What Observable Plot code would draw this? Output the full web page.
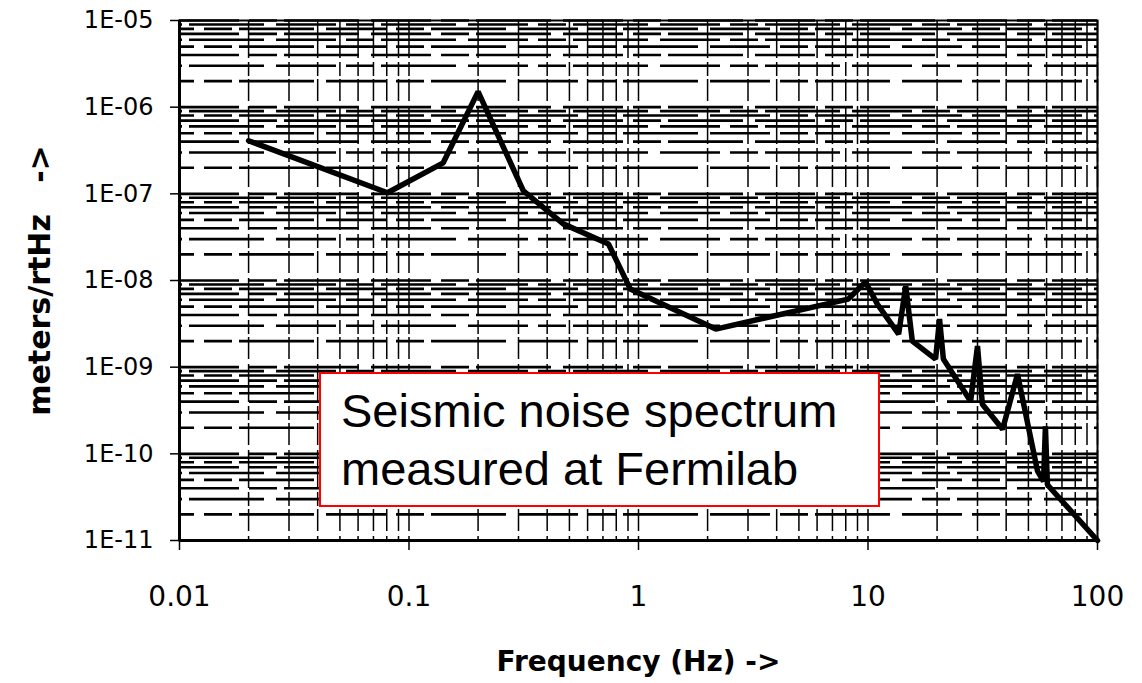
<!DOCTYPE html>
<html>
<head>
<meta charset="utf-8">
<script src="https://cdn.jsdelivr.net/npm/d3@7"></script>
<script src="https://cdn.jsdelivr.net/npm/@observablehq/plot@0.6"></script>
<style>
  html, body { margin: 0; padding: 0; background: #fff; }
  #wrap { position: relative; width: 1142px; height: 683px; }
  .note {
    position: absolute; left: 319px; top: 372px; width: 561px; height: 135px;
    box-sizing: border-box; border: 2px solid #ff0000; background: #fff;
    padding: 8px 0 0 20px; font-family: "Liberation Sans", Arial, sans-serif;
    font-size: 47px; line-height: 58px; color: #000; white-space: nowrap;
  }
</style>
</head>
<body>
<div id="wrap"></div>
<script>
// ---- data ----
const freq = [0.02, 0.0806, 0.141, 0.2, 0.315, 0.47, 0.74, 0.92, 2.17, 8.2, 9.75, 11, 13.6, 14.6, 15.6, 19.7, 20.5, 21.3, 28, 30, 31.5, 38.6, 44.8, 54.8, 58.2, 59.3, 60.5, 100];
const amp  = [4.1e-7, 1.03e-7, 2.28e-7, 1.51e-6, 1.08e-7, 4.5e-8, 2.64e-8, 8.0e-9, 2.75e-9, 6.1e-9, 9.6e-9, 5.3e-9, 2.4e-9, 8.6e-9, 2.0e-9, 1.24e-9, 3.59e-9, 1.24e-9, 4.05e-10, 1.75e-9, 3.73e-10, 1.92e-10, 8.3e-10, 6.3e-11, 4.8e-11, 2.08e-10, 4.4e-11, 1.0e-11];

const xTicks = [0.01, 0.1, 1, 10, 100];
const xTickLabels = ["0.01", "0.1", "1", "10", "100"];
const yTicks = [1e-11, 1e-10, 1e-9, 1e-8, 1e-7, 1e-6, 1e-5];
const yTickLabels = ["1E-11", "1E-10", "1E-09", "1E-08", "1E-07", "1E-06", "1E-05"];
const mantissas = [1, 2, 3, 4, 5, 6, 7, 8, 9];
const xLabel = "Frequency (Hz) ->";
const yLabel = "meters/rtHz\u00a0\u00a0\u00a0->";
const noteLines = ["Seismic noise spectrum", "measured at Fermilab"];

// ---- derived tables ----
const data = freq.map((f, i) => ({f, v: amp[i]}));
const xGrid = xTicks.slice(0, -1).flatMap(d => mantissas.map(m => d * m)).concat([xTicks[xTicks.length - 1]]);
const yGrid = yTicks.slice(0, -1).flatMap(d => mantissas.map(m => d * m)).concat([yTicks[yTicks.length - 1]]);
const xLab = new Map(xTicks.map((t, i) => [t, xTickLabels[i]]));
const yLab = new Map(yTicks.map((t, i) => [t, yTickLabels[i]]));
const yGroups = [0, 1, 2].map(k => yGrid.filter((d, i) => i % 3 === k));

const chart = Plot.plot({
  width: 1142,
  height: 683,
  marginLeft: 179,
  marginRight: 45,
  marginTop: 20,
  marginBottom: 143,
  x: {type: "log", domain: [0.01, 100]},
  y: {type: "log", domain: [1e-11, 1e-5]},
  style: {background: "#fff", color: "#000"},
  marks: [
    Plot.ruleX(xGrid, {stroke: "#000", strokeWidth: 1.5, strokeDasharray: "38,4,14,3,22,5"}),
    Plot.ruleY(yGroups[0], {stroke: "#000", strokeWidth: 2.6, strokeDasharray: "60,10,28,7,75,12", strokeDashoffset: 0}),
    Plot.ruleY(yGroups[1], {stroke: "#000", strokeWidth: 2.6, strokeDasharray: "60,10,28,7,75,12", strokeDashoffset: 45}),
    Plot.ruleY(yGroups[2], {stroke: "#000", strokeWidth: 2.6, strokeDasharray: "60,10,28,7,75,12", strokeDashoffset: 95}),
    Plot.frame({stroke: "#000", strokeWidth: 2}),
    Plot.ruleY([yTicks[0]], {stroke: "#000", strokeWidth: 3}),
    Plot.ruleX([xTicks[0]], {stroke: "#000", strokeWidth: 3}),
    Plot.axisX({ticks: xTicks, tickFormat: d => xLab.get(d), tickSize: 10, tickPadding: 36,
      fontSize: 28, fontFamily: "DejaVu Sans", strokeWidth: 1.5, label: null}),
    Plot.axisY({ticks: yTicks, tickFormat: d => yLab.get(d), tickSize: 9, tickPadding: 17,
      fontSize: 24, fontFamily: "DejaVu Sans", strokeWidth: 1.5, label: null}),
    Plot.text([xLabel], {frameAnchor: "bottom", dy: 122, lineAnchor: "middle", textAnchor: "middle",
      fontSize: 28, fontWeight: "bold", fontFamily: "DejaVu Sans", fill: "#000"}),
    Plot.text([yLabel], {frameAnchor: "left", dx: -139, rotate: -90, lineAnchor: "middle", textAnchor: "middle",
      fontSize: 30, fontWeight: "bold", fontFamily: "DejaVu Sans", fill: "#000"}),
    Plot.line(data, {x: "f", y: "v", stroke: "#000", strokeWidth: 5.5, strokeLinejoin: "miter"})
  ]
});

const wrap = document.getElementById("wrap");
wrap.appendChild(chart);
const note = document.createElement("div");
note.className = "note";
note.innerHTML = noteLines.join("<br>");
wrap.appendChild(note);
</script>
</body>
</html>
